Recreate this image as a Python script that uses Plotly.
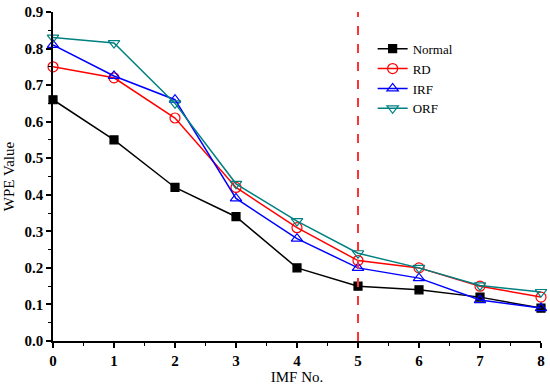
import plotly.graph_objects as go

imf = [0, 1, 2, 3, 4, 5, 6, 7, 8]
normal = [0.66, 0.55, 0.42, 0.34, 0.20, 0.15, 0.14, 0.12, 0.09]
rd = [0.75, 0.72, 0.61, 0.42, 0.31, 0.22, 0.20, 0.15, 0.12]
irf = [0.81, 0.725, 0.66, 0.39, 0.28, 0.20, 0.172, 0.112, 0.09]
orf = [0.83, 0.815, 0.65, 0.43, 0.328, 0.24, 0.20, 0.152, 0.134]
vline_x = 5

font = "Liberation Serif, Times New Roman, serif"
fig = go.Figure()
series = [
    ("Normal", normal, "black", "square", 8),
    ("RD", rd, "red", "circle-open", 10),
    ("IRF", irf, "blue", "triangle-up-open", 10),
    ("ORF", orf, "#008080", "triangle-down-open", 10),
]
for name, ys, col, sym, sz in series:
    fig.add_trace(go.Scatter(
        x=imf, y=ys, name=name, mode="lines+markers",
        line=dict(color=col, width=1.5),
        marker=dict(symbol=sym, size=sz, color=col, line=dict(color=col, width=1.2)),
        cliponaxis=False,
    ))

fig.add_shape(type="line", x0=vline_x, x1=vline_x, y0=0, y1=0.9, xref="x", yref="y",
              line=dict(color="#ff3333", width=2, dash="dash"))

axis_common = dict(
    showline=True, linecolor="black", linewidth=1.5, mirror=False,
    ticks="outside", ticklen=5, tickwidth=1.5, tickcolor="black",
    showgrid=False, zeroline=False, automargin=False,
    ticklabeloverflow="allow",
    tickfont=dict(family=font, size=15, color="black", weight="bold"),
)
fig.update_xaxes(range=[0, 8], dtick=1, tick0=0,
                 minor=dict(ticks="outside", ticklen=3, tickwidth=1.2, dtick=0.5, tickcolor="black"),
                 title=dict(text="IMF No.", font=dict(family=font, size=15, color="black"), standoff=4),
                 **axis_common)
fig.update_yaxes(range=[0, 0.9], dtick=0.1, tick0=0, tickformat=".1f",
                 minor=dict(ticks="outside", ticklen=3, tickwidth=1.2, dtick=0.05, tickcolor="black"),
                 title=dict(text="WPE Value", font=dict(family=font, size=15, color="black"), standoff=6),
                 **axis_common)

fig.update_layout(
    width=550, height=386,
    margin=dict(l=53, r=9, t=12, b=45),
    plot_bgcolor="white", paper_bgcolor="white",
    font=dict(family=font, size=15, color="black"),
    legend=dict(x=0.655, y=0.934, xanchor="left", yanchor="top",
                bgcolor="rgba(0,0,0,0)", font=dict(family=font, size=13, color="black"),
                tracegroupgap=0, itemsizing="trace"),
    showlegend=True,
)

fig.write_html("out.html", config={"displayModeBar": False},
               post_script="document.body.style.margin='0px';")
